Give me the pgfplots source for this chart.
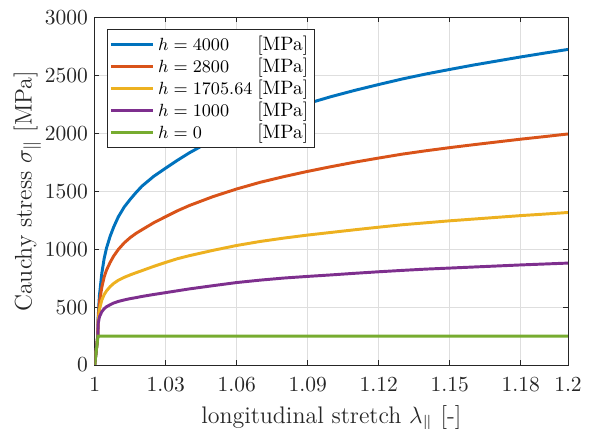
\documentclass[border=0pt]{standalone}
\usepackage{pgfplots}
\pgfplotsset{compat=1.18}
\definecolor{mblue}{rgb}{0,0.447,0.741}
\definecolor{mred}{rgb}{0.85,0.325,0.098}
\definecolor{myellow}{rgb}{0.929,0.694,0.125}
\definecolor{mpurple}{rgb}{0.494,0.184,0.556}
\definecolor{mgreen}{rgb}{0.466,0.674,0.188}
\definecolor{maxis}{rgb}{0.15,0.15,0.15}
\definecolor{mgrid}{rgb}{0.87,0.87,0.87}
\newcommand{\lent}[1]{\makebox[50.5pt][l]{\fontsize{9.3}{11}\selectfont$h = #1$}{\fontsize{9.85}{11}\selectfont[MPa]}}
\begin{document}
\begin{tikzpicture}
\begin{axis}[
  name=ax,
  scale only axis,
  width=241.07pt, height=176.95pt,
  xmin=1, xmax=1.2, ymin=0, ymax=3000,
  xtick={1,1.03,1.06,1.09,1.12,1.15,1.18,1.2},
  xticklabels={\fontsize{10.7}{12}\selectfont $1$,\fontsize{10.7}{12}\selectfont $1.03$,\fontsize{10.7}{12}\selectfont $1.06$,\fontsize{10.7}{12}\selectfont $1.09$,\fontsize{10.7}{12}\selectfont $1.12$,\fontsize{10.7}{12}\selectfont $1.15$,\fontsize{10.7}{12}\selectfont $1.18$,\fontsize{10.7}{12}\selectfont $1.2$},
  ytick={0,500,1000,1500,2000,2500,3000},
  yticklabels={\fontsize{10.7}{12}\selectfont $0$,\fontsize{10.7}{12}\selectfont $500$,\fontsize{10.7}{12}\selectfont $1000$,\fontsize{10.7}{12}\selectfont $1500$,\fontsize{10.7}{12}\selectfont $2000$,\fontsize{10.7}{12}\selectfont $2500$,\fontsize{10.7}{12}\selectfont $3000$},
  tick align=inside,
  major tick length=2.4pt,
  xtick pos=both, ytick pos=both,
  grid=major,
  major grid style={mgrid, line width=0.5pt},
  axis line style={maxis, line width=0.5pt},
  tick style={maxis, line width=0.5pt},
  ticklabel style={text=maxis},
  xticklabel style={yshift=-3pt},
  yticklabel style={xshift=0pt},
  xlabel={\fontsize{12.2}{14}\selectfont longitudinal stretch $\lambda_\parallel$ [-]},
  ylabel={\fontsize{12.2}{14}\selectfont Cauchy stress $\sigma_\parallel$ [MPa]},
  xlabel style={text=maxis, yshift=0pt},
  ylabel style={text=maxis, yshift=-5pt},
  legend style={at={(0,1)}, anchor=north west, xshift=6.1pt, yshift=-5.8pt,
    draw=maxis, line width=0.5pt,
    inner sep=1.2pt, row sep=-1.7pt},
  legend cell align=left,
  legend image code/.code={\draw[#1, line width=1.5pt] (0pt,0pt) -- (21.3pt,0pt);},
  every axis plot/.append style={line width=1.5pt},
]
\addplot[mblue] coordinates {
(1,0) (1.0013,250) (1.0015,420) (1.002,600) (1.003,790) (1.004,920) (1.005,1010)
(1.0065,1110) (1.008,1190) (1.01,1280) (1.0125,1365) (1.015,1430) (1.0175,1490)
(1.02,1545) (1.025,1630) (1.03,1700) (1.035,1768) (1.04,1832) (1.05,1945)
(1.06,2040) (1.07,2124) (1.08,2195) (1.09,2258) (1.10,2318) (1.11,2372)
(1.12,2422) (1.13,2470) (1.14,2513) (1.15,2552) (1.16,2590) (1.17,2625)
(1.18,2660) (1.19,2693) (1.2,2725)};
\addlegendentry{\lent{4000}}
\addplot[mred] coordinates {
(1,0) (1.0013,250) (1.0015,400) (1.002,540) (1.003,670) (1.004,760) (1.005,820)
(1.0065,885) (1.008,940) (1.01,998) (1.0125,1055) (1.015,1100) (1.0175,1137)
(1.02,1168) (1.025,1229) (1.03,1281) (1.035,1332) (1.04,1377) (1.05,1454)
(1.06,1520) (1.07,1578) (1.08,1627) (1.09,1672) (1.10,1713) (1.11,1752)
(1.12,1787) (1.13,1821) (1.14,1850) (1.15,1877) (1.16,1902) (1.17,1926)
(1.18,1950) (1.19,1972) (1.2,1995)};
\addlegendentry{\lent{2800}}
\addplot[myellow] coordinates {
(1,0) (1.0013,250) (1.0015,380) (1.002,480) (1.003,560) (1.004,608) (1.005,640)
(1.0065,676) (1.008,704) (1.01,732) (1.0125,757) (1.015,778) (1.0175,797)
(1.02,815) (1.025,852) (1.03,886) (1.035,918) (1.04,944) (1.05,990)
(1.06,1032) (1.07,1067) (1.08,1096) (1.09,1122) (1.10,1145) (1.11,1168)
(1.12,1190) (1.13,1211) (1.14,1228) (1.15,1245) (1.16,1260) (1.17,1275)
(1.18,1290) (1.19,1303) (1.2,1317)};
\addlegendentry{\lent{1705.64}}
\addplot[mpurple] coordinates {
(1,0) (1.0013,250) (1.0015,360) (1.002,415) (1.003,460) (1.004,486) (1.005,503)
(1.0065,520) (1.008,535) (1.01,549) (1.0125,562) (1.015,573) (1.0175,582)
(1.02,592) (1.025,609) (1.03,625) (1.035,641) (1.04,657) (1.05,685)
(1.06,712) (1.07,733) (1.08,751) (1.09,765) (1.10,778) (1.11,792)
(1.12,805) (1.13,817) (1.14,828) (1.15,837) (1.16,846) (1.17,855)
(1.18,864) (1.19,872) (1.2,880)};
\addlegendentry{\lent{1000}}
\addplot[mgreen] coordinates {(1,0) (1.0014,250) (1.2,250)};
\addlegendentry{\lent{0}}
\end{axis}
\pgfresetboundingbox
\path ([shift={(-48.23pt,-32.6pt)}]ax.south west) rectangle ([shift={(10.7pt,8.96pt)}]ax.north east);
\end{tikzpicture}
\end{document}
